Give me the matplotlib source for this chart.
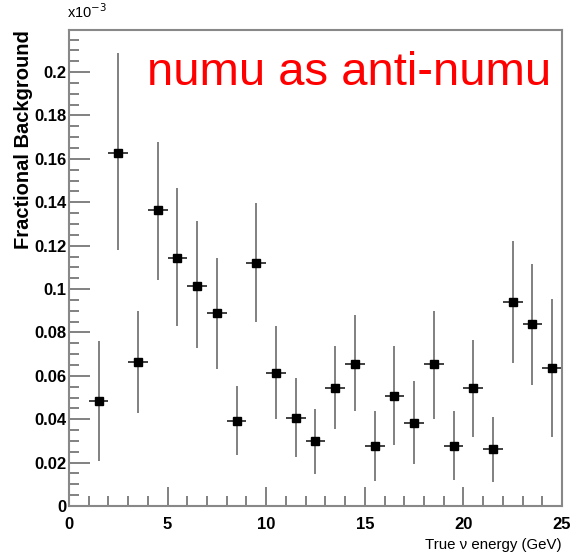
import numpy as np
import matplotlib
matplotlib.use("Agg")
import matplotlib.pyplot as plt
from matplotlib.ticker import MultipleLocator, FixedLocator

# true neutrino energy bins (GeV), 1 GeV wide
bin_lo = [1, 2, 3, 4, 5, 6, 7, 8, 9, 10, 11, 12,
          13, 14, 15, 16, 17, 18, 19, 20, 21, 22, 23, 24]
# fractional background (x10^-3)
frac = [0.0485, 0.1628, 0.0665, 0.1364, 0.1141, 0.1015, 0.0888, 0.0393,
        0.1121, 0.0614, 0.0404, 0.0300, 0.0542, 0.0654, 0.0278, 0.0508,
        0.0384, 0.0653, 0.0276, 0.0545, 0.0263, 0.0939, 0.0837, 0.0635]
err_up = [0.0760, 0.2086, 0.0900, 0.1677, 0.1465, 0.1313, 0.1144, 0.0554,
          0.1395, 0.0831, 0.0590, 0.0446, 0.0737, 0.0880, 0.0439, 0.0737,
          0.0576, 0.0900, 0.0438, 0.0765, 0.0412, 0.1221, 0.1114, 0.0954]
err_lo = [0.0207, 0.1180, 0.0430, 0.1040, 0.0830, 0.0727, 0.0630, 0.0233,
          0.0849, 0.0400, 0.0227, 0.0147, 0.0353, 0.0438, 0.0117, 0.0281,
          0.0192, 0.0401, 0.0120, 0.0319, 0.0112, 0.0657, 0.0558, 0.0317]
ytick_vals = [0, 0.02, 0.04, 0.06, 0.08, 0.1, 0.12, 0.14, 0.16, 0.18, 0.2]
ytick_lbls = ["0", "0.02", "0.04", "0.06", "0.08", "0.1", "0.12", "0.14",
              "0.16", "0.18", "0.2"]
xtick_vals = [0, 5, 10, 15, 20, 25]

fnt = ["Liberation Sans", "DejaVu Sans"]

x = np.array(bin_lo) + 0.5
y = np.array(frac)
yerr = [y - np.array(err_lo), np.array(err_up) - y]

fig = plt.figure(figsize=(5.73, 5.59), dpi=100)
ax = fig.add_axes([0.1204, 0.0948, 0.8604, 0.8515])

ax.errorbar(x, y, yerr=yerr, fmt="none", ecolor="#808080",
            elinewidth=1.4, capsize=0)
ax.errorbar(x, y, xerr=0.5, fmt="none", ecolor="#404040",
            elinewidth=1.4, capsize=0)
ax.plot(x, y, "s", color="black", markersize=6)

ax.set_xlim(0, 25)
ax.set_ylim(0, 0.2194)

ax.xaxis.set_major_locator(FixedLocator(xtick_vals))
ax.xaxis.set_minor_locator(MultipleLocator(1))
ax.yaxis.set_major_locator(FixedLocator(ytick_vals))
ax.set_yticklabels(ytick_lbls)
ax.yaxis.set_minor_locator(MultipleLocator(0.005))

ax.tick_params(which="both", direction="in", color="#777777", width=1.3,
               top=False, right=False)
ax.tick_params(which="major", length=15)
ax.tick_params(which="minor", length=7)
ax.tick_params(axis="x", which="major", length=14, pad=8)
ax.tick_params(axis="y", pad=2)
for lab in ax.get_xticklabels() + ax.get_yticklabels():
    lab.set_family(fnt)
    lab.set_fontweight("bold")
    lab.set_fontsize(12)

for s in ax.spines.values():
    s.set_color("#888888")
    s.set_linewidth(1.5)

fig.text(0.041, 0.946, "Fractional Background", rotation=90, ha="center",
         va="top", fontsize=14.5, fontweight="bold", family=fnt)
fig.text(0.981, 0.012, "True \u03bd energy (GeV)", ha="right", va="bottom",
         fontsize=10.8, family=fnt)
fig.text(0.117, 0.963, r"x10$^{-3}$", ha="left", va="bottom",
         fontsize=10.5, family=fnt)
fig.text(0.61, 0.848, "numu as anti-numu", ha="center", va="baseline",
         fontsize=34, color="red", family=fnt)

fig.savefig("out.png", dpi=100)
